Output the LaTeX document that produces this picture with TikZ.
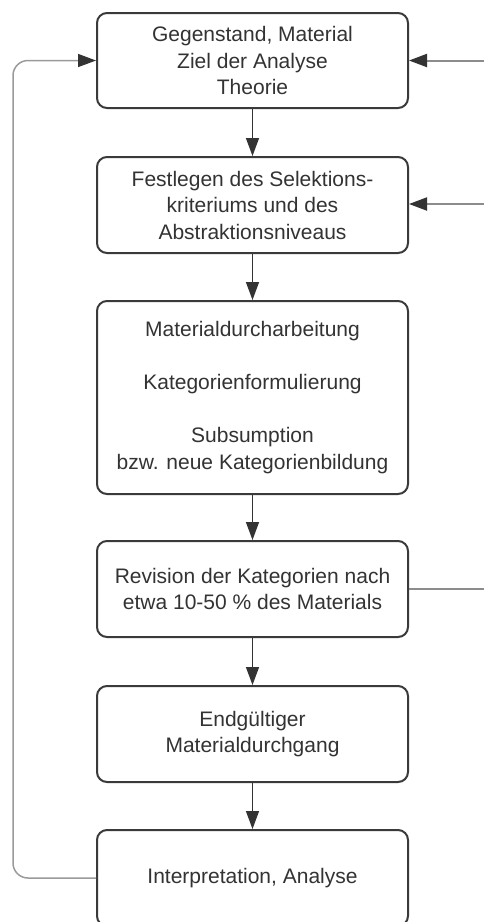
\documentclass[tikz,border=0pt]{standalone}
\usepackage{fontspec}
\setmainfont{Liberation Sans}
\usetikzlibrary{arrows.meta}
\definecolor{ink}{HTML}{333333}
\definecolor{frame}{HTML}{3A3A3A}
\definecolor{side}{HTML}{8C8C8C}
\definecolor{loop}{HTML}{9A9A9A}
\tikzset{
  stepbox/.style={draw=frame, line width=2pt, rounded corners=10pt, fill=white,
    minimum width=311pt, align=center, text=ink, inner sep=0pt,
    font=\fontsize{21}{26.5}\selectfont},
  head/.style={-{Triangle[length=18pt,width=13pt,color=ink,fill=ink]}},
  flow/.style={draw=ink, line width=1.4pt, head},
  backline/.style={draw=side, line width=2pt},
  loopline/.style={draw=loop, line width=1.5pt, rounded corners=15pt, head},
}
\begin{document}
\begin{tikzpicture}[x=1pt, y=-1pt]
  \clip (0,0) rectangle (484,922);

  % process steps
  \node[stepbox, minimum height=95pt] (b1) at (252.5,60.5)
    {Gegenstand, Material\\Ziel der Analyse\\Theorie};
  \node[stepbox, minimum height=96pt] (b2) at (252.5,205)
    {Festlegen des Selektions-\\kriteriums und des\\Abstraktionsniveaus};
  \node[stepbox, minimum height=193pt] (b3) at (252.5,397.5)
    {Materialdurcharbeitung\\~\\Kategorienformulierung\\~\\Subsumption\\bzw. neue Kategorienbildung};
  \node[stepbox, minimum height=96pt] (b4) at (252.5,589)
    {Revision der Kategorien nach\\etwa 10-50 \% des Materials};
  \node[stepbox, minimum height=96pt] (b5) at (252.5,734)
    {Endgültiger\\Materialdurchgang};
  \node[stepbox, minimum height=96pt] (b6) at (252.5,878)
    {Interpretation, Analyse};

  % main flow
  \draw[flow] (b1) -- (b2);
  \draw[flow] (b2) -- (b3);
  \draw[flow] (b3) -- (b4);
  \draw[flow] (b4) -- (b5);
  \draw[flow] (b5) -- (b6);

  % feedback on the right
  \coordinate (r1) at (495,60.5);
  \coordinate (r2) at (495,204);
  \coordinate (r4) at (495,589);
  \draw[backline, head] (r1) -- (b1.east);
  \draw[backline, head] (r2) -- (b2.east |- r2);
  \draw[backline] (b4.east) -- (r4);

  % loop back from the end to the start
  \coordinate (lx) at (13,0);
  \draw[loopline] (b6.west) -| (lx |- b1.west) -- (b1.west);
\end{tikzpicture}
\end{document}
